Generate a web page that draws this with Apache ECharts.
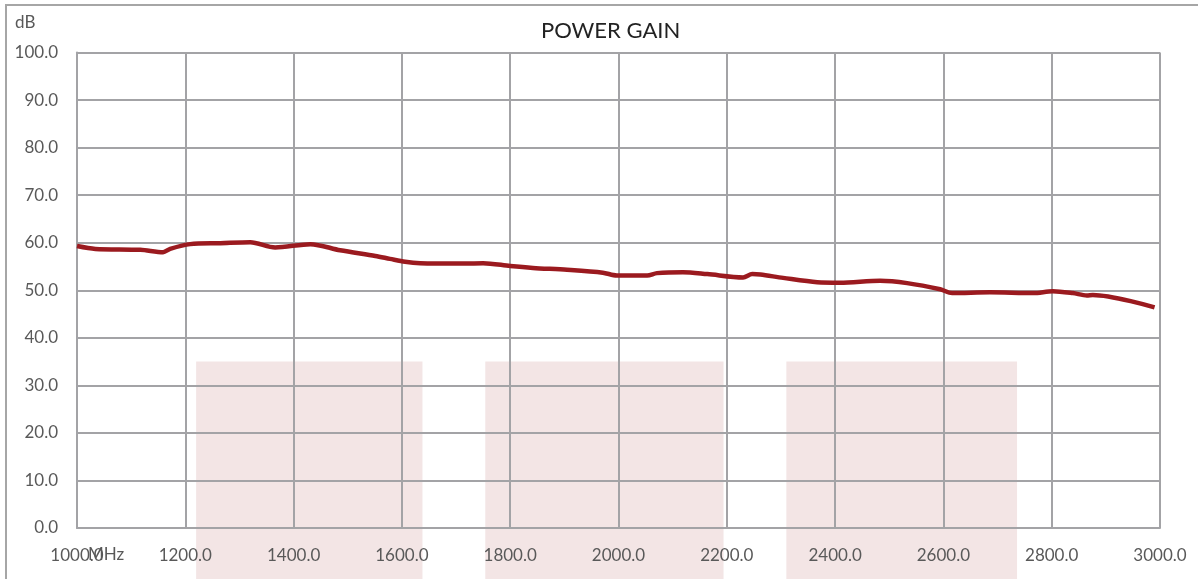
<!DOCTYPE html>
<html>
<head>
<meta charset="utf-8">
<script src="https://cdn.jsdelivr.net/npm/echarts@6/dist/echarts.min.js"></script>
<style>html,body{margin:0;padding:0;background:#fff;}#c{width:1198px;height:579px;}</style>
</head>
<body>
<div id="c"></div>
<script>
var freqMHz = [1000,1034,1117,1159,1172,1209,1265,1320,1366,1431,1486,1551,1578,1606,1634,1700,1750,1800,1842,1905,1971,1997,2053,2071,2119,2164,2230,2247,2262,2304,2367,2409,2483,2533,2594,2616,2686,2766,2802,2839,2865,2876,2990];
var gainDB  = [59.3,58.7,58.5,58.0,58.7,59.7,59.9,60.1,59.0,59.7,58.4,57.2,56.6,56.0,55.7,55.6,55.7,55.1,54.7,54.3,53.7,53.1,53.1,53.6,53.8,53.4,52.7,53.4,53.3,52.6,51.7,51.6,52.0,51.5,50.2,49.4,49.6,49.4,49.8,49.4,48.9,49.0,46.4];
var xTicks = [1000,1200,1400,1600,1800,2000,2200,2400,2600,2800,3000];
var yTicks = [0,10,20,30,40,50,60,70,80,90,100];
var bandStart = [1220,1754,2310];
var bandEnd   = [1638,2194,2736];
var bandTop = 35;
var bandBottom = -11;

var chart = echarts.init(document.getElementById('c'));
var fontFam = 'Lato, "Open Sans", sans-serif';
var gridColor = '#a3a3a6';
var option = {
  animation: false,
  title: {
    text: 'POWER GAIN', left: 536, top: 15,
    textStyle: {fontFamily: fontFam, fontSize: 22, fontWeight: 'normal', color: '#222'}
  },
  grid: {left: 77, right: 38, top: 52.5, bottom: 51, containLabel: false},
  xAxis: {
    type: 'value', min: xTicks[0], max: xTicks[xTicks.length-1], interval: 200,
    axisLine: {show: true, onZero: false, lineStyle: {color: gridColor, width: 2}},
    axisTick: {show: false},
    splitLine: {show: true, lineStyle: {color: gridColor, width: 2}},
    axisLabel: {margin: 19, color: '#595959', fontFamily: fontFam, fontSize: 17,
      formatter: function(v){ return v.toFixed(1); }}
  },
  yAxis: {
    type: 'value', min: yTicks[0], max: yTicks[yTicks.length-1], interval: 10,
    axisLine: {show: true, lineStyle: {color: gridColor, width: 2}},
    axisTick: {show: false},
    splitLine: {show: true, lineStyle: {color: gridColor, width: 2}},
    axisLabel: {margin: 19, color: '#595959', fontFamily: fontFam, fontSize: 17,
      formatter: function(v){ return v.toFixed(1); }}
  },
  series: [{
    type: 'line', data: freqMHz.map(function(f,i){ return [f, gainDB[i]]; }),
    showSymbol: false, smooth: 0.3, z: 5,
    lineStyle: {color: '#9b1a1f', width: 4.5}
  }]
};
chart.setOption(option);

var els = [];
for (var i = 0; i < bandStart.length; i++) {
  var p1 = chart.convertToPixel({gridIndex: 0}, [bandStart[i], bandTop]);
  var p2 = chart.convertToPixel({gridIndex: 0}, [bandEnd[i], bandBottom]);
  els.push({type: 'rect', z: -10, silent: true,
    shape: {x: p1[0], y: p1[1], width: p2[0]-p1[0], height: p2[1]-p1[1]},
    style: {fill: '#f3e5e5'}});
}
els.push({type: 'rect', z: -5, silent: true,
  shape: {x: 6, y: 5, width: 1300, height: 700},
  style: {fill: 'none', stroke: '#a6a6a6', lineWidth: 2}});
els.push({type: 'text', left: 15, top: 14, z: 10,
  style: {text: 'dB', fill: '#595959', font: '17px ' + fontFam}});
els.push({type: 'text', left: 88, top: 546, z: 10,
  style: {text: 'MHz', fill: '#595959', font: '17px ' + fontFam}});
chart.setOption({graphic: {elements: els}});
</script>
</body>
</html>
